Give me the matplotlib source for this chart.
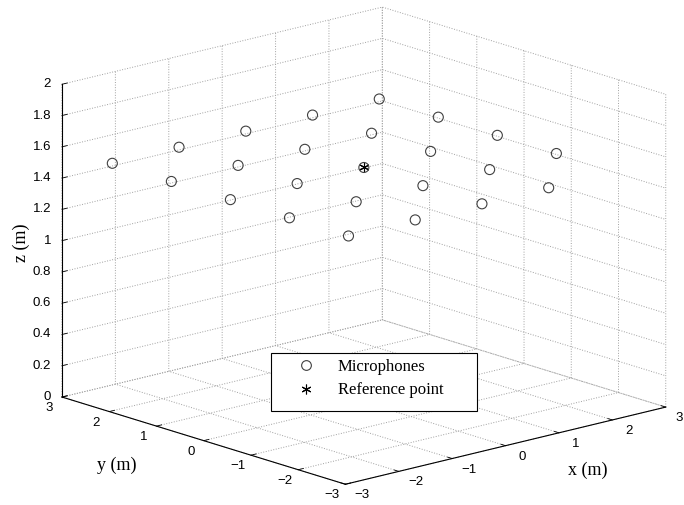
import numpy as np
import matplotlib
matplotlib.use("Agg")
import matplotlib.pyplot as plt
from matplotlib.lines import Line2D
from matplotlib.patches import Rectangle

# Microphone array: 5 x 5 grid in the horizontal plane
mic_x_positions = [-2.5, -1.25, 0.0, 1.25, 2.5]
mic_y_positions = [-2.5, -1.25, 0.0, 1.25, 2.5]
mic_height = 1.5

# Reference point
ref_point = [0.0, 0.0, 1.5]

x_ticks = [-3, -2, -1, 0, 1, 2, 3]
y_ticks = [-3, -2, -1, 0, 1, 2, 3]
z_ticks = [0, 0.2, 0.4, 0.6, 0.8, 1, 1.2, 1.4, 1.6, 1.8, 2]
x_tick_labels = ["\u22123", "\u22122", "\u22121", "0", "1", "2", "3"]
y_tick_labels = ["\u22123", "\u22122", "\u22121", "0", "1", "2", "3"]
z_tick_labels = ["0", "0.2", "0.4", "0.6", "0.8", "1", "1.2", "1.4", "1.6", "1.8", "2"]

plt.rcParams["grid.linestyle"] = ":"
plt.rcParams["grid.color"] = "#a0a0a0"
plt.rcParams["grid.linewidth"] = 0.7
plt.rcParams["axes3d.automargin"] = False

sans = ["Liberation Sans", "DejaVu Sans"]
serif = ["Liberation Serif", "DejaVu Serif"]

W, H = 684, 505
fig = plt.figure(figsize=(W / 100, H / 100), dpi=100)
ax = fig.add_axes([0.022, 0.0, 1.0, 1.0], projection="3d", proj_type="ortho")
ax.view_init(elev=15.8, azim=-131.5)
ax.set_box_aspect((1, 1, 0.76), zoom=1.32)

gx, gy = np.meshgrid(mic_x_positions, mic_y_positions)
gz = np.full_like(gx, mic_height)
ax.scatter(gx.ravel(), gy.ravel(), gz.ravel(), marker="o", s=52,
           facecolors="none", edgecolors="#404040", linewidths=0.8,
           depthshade=False)
ax.scatter([ref_point[0]], [ref_point[1]], [ref_point[2]], marker=(6, 2, 0),
           s=45, color="black", linewidths=0.8, depthshade=False)

ax.set_xlim(-3, 3)
ax.set_ylim(-3, 3)
ax.set_zlim(0, 2)
ax.set_xticks(x_ticks)
ax.set_yticks(y_ticks)
ax.set_zticks(z_ticks)
for axis in (ax.xaxis, ax.yaxis, ax.zaxis):
    axis.set_major_formatter(plt.NullFormatter())
    axis.set_pane_color((1, 1, 1, 0))
    axis.pane.set_edgecolor("none")
    axis.line.set_color("black")
    axis.line.set_linewidth(0.8)
    axis._axinfo["tick"]["inward_factor"] = 0.0
    axis._axinfo["tick"]["outward_factor"] = 0.2
    axis._axinfo["tick"]["linewidth"] = {True: 0.6, False: 0.5}
    axis._axinfo["tick"]["color"] = "black"

ax.set_xlabel("")
ax.set_ylabel("")
ax.set_zlabel("")

# Resolve the projection so tick labels can be placed beside the box edges
fig.canvas.draw()
to_fig = fig.transFigure.inverted()


def label_at(x, y, z, s, dx, dy, **kw):
    v = ax.M @ np.array([x, y, z, 1.0])
    px, py = ax.transData.transform((v[0] / v[3], v[1] / v[3]))
    px = min(px + dx, W - 5)
    fx, fy = to_fig.transform((px, py - dy))
    fig.text(fx, fy, s, fontfamily=sans, fontsize=9.5, **kw)


for xv, s in zip(x_ticks, x_tick_labels):
    label_at(xv, -3, 0, s, 17, 11, ha="center", va="center")
for yv, s in zip(y_ticks, y_tick_labels):
    label_at(-3, yv, 0, s, -13, 11, ha="center", va="center")
for zv, s in zip(z_ticks, z_tick_labels):
    label_at(-3, 3, zv, s, -11, 0, ha="right", va="center")

# Axis titles, kept upright
fig.text(588 / W, 1 - 470 / H, "x (m)", fontfamily=serif, fontsize=13,
         ha="center", va="center")
fig.text(117 / W, 1 - 465 / H, "y (m)", fontfamily=serif, fontsize=13,
         ha="center", va="center")
fig.text(21 / W, 1 - 243 / H, "z (m)", fontfamily=serif, fontsize=13,
         ha="center", va="center", rotation=90)

handles = [
    Line2D([], [], linestyle="none", marker="o", markersize=7,
           markerfacecolor="none", markeredgecolor="#404040", markeredgewidth=0.8),
    Line2D([], [], linestyle="none", marker=(6, 2, 0), markersize=7,
           color="black", markeredgewidth=0.8),
]
leg = fig.legend(handles, ["Microphones", "Reference point"],
                 loc="upper left", bbox_to_anchor=(288 / W, 1 - 354 / H),
                 prop={"family": serif, "size": 12}, frameon=False,
                 borderpad=0.3, labelspacing=0.45, handlelength=1.5,
                 handletextpad=1.2, borderaxespad=0)
fig.add_artist(Rectangle((271 / W, 1 - 411 / H), 206 / W, 58 / H,
                         transform=fig.transFigure, facecolor="white",
                         edgecolor="black", linewidth=0.8, zorder=4))
leg.set_zorder(5)

fig.savefig("out.png", dpi=100)
